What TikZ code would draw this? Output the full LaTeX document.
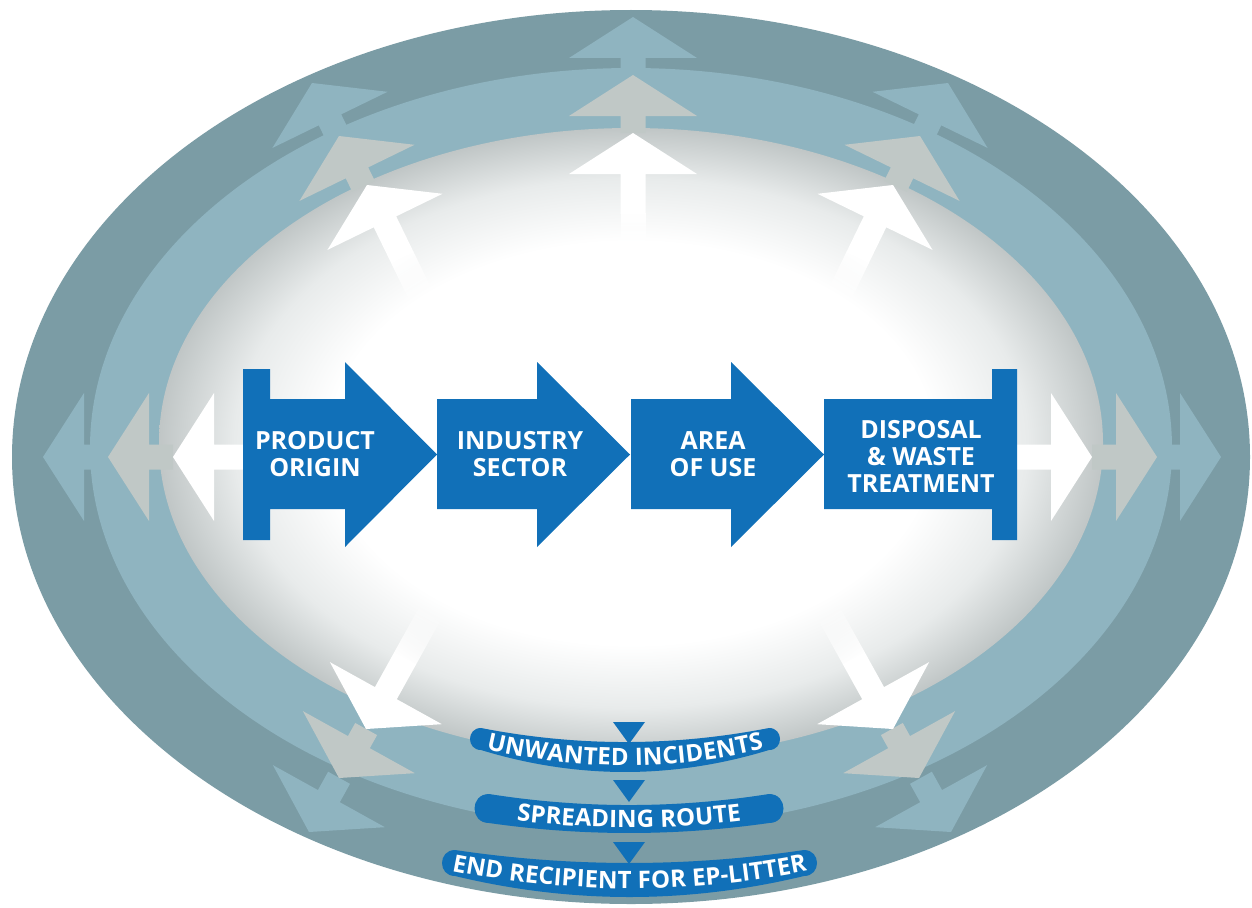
\documentclass[tikz,border=0pt]{standalone}
\usepackage{fontspec}
\setmainfont{Open Sans}
\usetikzlibrary{decorations.text,fadings}
\definecolor{ringdark}{HTML}{7B9CA5}
\definecolor{ringmid}{HTML}{8FB4C0}
\definecolor{spokegray}{HTML}{C0C8C6}
\definecolor{stepblue}{HTML}{1170B8}
\definecolor{glowedge}{HTML}{C0C6C6}
\definecolor{glowmid}{HTML}{E8EBEB}
\pgfdeclareradialshading{innerglow}{\pgfpoint{0bp}{0bp}}{color(0bp)=(white); color(16bp)=(white); color(21bp)=(glowmid); color(25bp)=(glowedge); color(50bp)=(glowedge)}
\tikzfading[name=shaftfade, top color=transparent!0, bottom color=transparent!100]
\newcommand{\spoke}[5]{%
  \fill[#4, shift={(#1,#2)}, rotate=#3] (0,0) -- (64,41) -- (12.5,41) -- (12.5,{41+#5}) -- (-12.5,{41+#5}) -- (-12.5,41) -- (-64,41) -- cycle;}
\newcommand{\fadespoke}[4]{%
  \spoke{#1}{#2}{#3}{white}{40}
  \fill[white, shift={(#1,#2)}, rotate=#3, path fading=shaftfade, fading angle=#3] (-12.5,80) rectangle (12.5,{80+#4});}
\newcommand{\ribbon}[6]{%
  \fill[stepblue] (#1,#3) .. controls ({#1+(#2-#1)/3},#4) and ({#2-(#2-#1)/3},#4) .. (#2,#3)
    .. controls ({#2+2*(#5-#3)/3},#3) and ({#2+2*(#5-#3)/3},#5) .. (#2,#5)
    .. controls ({#2-(#2-#1)/3},#6) and ({#1+(#2-#1)/3},#6) .. (#1,#5)
    .. controls ({#1-2*(#5-#3)/3},#5) and ({#1-2*(#5-#3)/3},#3) .. cycle;}
\newcommand{\bannerfont}{\bfseries\fontsize{24}{24}\selectfont}
\tikzset{
  stepshape/.style={fill=stepblue},
  steplabel/.style={text=white, font=\bfseries\fontsize{25}{27}\selectfont, align=center, inner sep=0pt},
  bannertext/.style={decorate, decoration={text along path, text color=white, text align=center, raise=-8.5pt, text={|\bannerfont|#1}}}
}
\begin{document}
\begin{tikzpicture}[x=1pt,y=-1pt]
    \fill[white] (0,0) rectangle (1252,907);
    \useasboundingbox (0,0) rectangle (1252,907);
    \fill[ringdark] (631,457) ellipse [x radius=619, y radius=447];
    \fill[ringmid] (631,448) ellipse [x radius=541, y radius=380];
    \shade[shading=innerglow] (631,443) ellipse [x radius=472, y radius=315];
    \foreach \px/\py/\ang/\len in {43/457/90/24, 1221/457/-90/24, 633/17/0/17, 312/83/26/18, 948/83/-26/18, 309/832/151/21, 951/832/-151/21}
        \spoke{\px}{\py}{\ang}{ringmid}{\len};
    \foreach \px/\py/\ang/\len in {108/457/90/24, 1157/457/-90/24, 633/75/0/17, 339/136/26/15, 920/136/-26/15, 339/778/151/15, 919/778/-151/15}
        \spoke{\px}{\py}{\ang}{spokegray}{\len};
    \spoke{173}{457}{90}{white}{33}
    \spoke{1092}{457}{-90}{white}{40}
    \foreach \px/\py/\ang in {633/133/0, 367/185/26, 893/185/-26, 366/729/151, 893/729/-151}
        \fadespoke{\px}{\py}{\ang}{60};
    \fill[stepshape] (243,369) -- (270,369) -- (270,399) -- (345,399) -- (345,362) -- (437,454.5) -- (345,547) -- (345,509) -- (270,509) -- (270,540) -- (243,540) -- cycle;
    \foreach \x in {437,631}
        \fill[stepshape] (\x,399) -- ({\x+100},399) -- ({\x+100},362) -- ({\x+193},454.5) -- ({\x+100},547) -- ({\x+100},509) -- (\x,509) -- cycle;
    \fill[stepshape] (824,399) -- (992,399) -- (992,369) -- (1017,369) -- (1017,540) -- (992,540) -- (992,509) -- (824,509) -- cycle;
    \node[steplabel] (origin) at (315,454) {PRODUCT\\ORIGIN};
    \node[steplabel] (sector) at (520,454) {INDUSTRY\\SECTOR};
    \node[steplabel] (use) at (713,454) {AREA\\OF USE};
    \node[steplabel] (disposal) at (921,456) {DISPOSAL\\\& WASTE\\TREATMENT};
    \ribbon{481}{769}{728}{746.7}{750}{779.3}
    \ribbon{489}{769}{794}{808.7}{823}{836.3}
    \ribbon{455}{804}{850}{867.3}{876}{904}
    \foreach \ty in {722,780,842}
        \fill[stepshape] (613,\ty) -- (645,\ty) -- (629,{\ty+22}) -- cycle;
    \path[bannertext={UNWANTED INCIDENTS}] (481,739) .. controls (577,763) and (673,763) .. (769,739);
    \path[bannertext={SPREADING ROUTE}] (489,808.5) .. controls (582,822.5) and (676,822.5) .. (769,808.5);
    \path[bannertext={END RECIPIENT FOR EP-LITTER}] (455,863) .. controls (571,885.7) and (688,885.7) .. (804,863);
\end{tikzpicture}
\end{document}
